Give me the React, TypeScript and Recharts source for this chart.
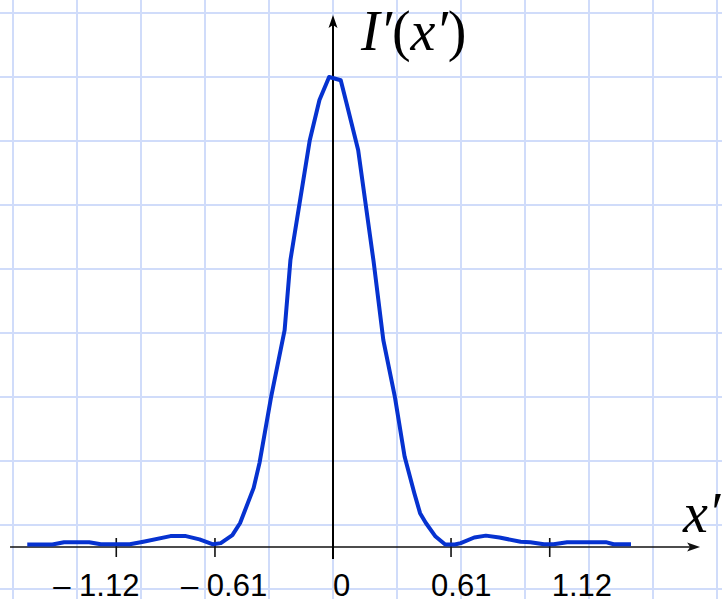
import React from "react"
import { LineChart, Line, XAxis, YAxis, CartesianGrid, ReferenceLine } from "recharts"

/* ── data ── */
const xPos = [
  -1.58, -1.45, -1.39, -1.26, -1.2, -1.05, -0.98, -0.84, -0.76, -0.69, -0.62, -0.58, -0.52, -0.48,
  -0.41, -0.38, -0.32, -0.25, -0.22, -0.12, -0.07, -0.02, 0.04, 0.07, 0.13, 0.21, 0.26, 0.32, 0.37,
  0.42, 0.45, 0.48, 0.53, 0.58, 0.63, 0.66, 0.73, 0.79, 0.86, 0.97, 1.02, 1.09, 1.14, 1.21, 1.41,
  1.45, 1.54,
]
const intensity = [
  0.001, 0.001, 0.006, 0.006, 0.0015, 0.0015, 0.007, 0.019, 0.019, 0.012, 0.0015, 0.004, 0.021, 0.047,
  0.122, 0.175, 0.316, 0.459, 0.609, 0.865, 0.951, 1.0, 0.993, 0.944, 0.844, 0.605, 0.438, 0.316, 0.189,
  0.111, 0.068, 0.047, 0.018, 0.001, 0.001, 0.004, 0.016, 0.02, 0.016, 0.007, 0.006, 0.0015, 0.0015, 0.006, 0.006,
  0.0015, 0.0015,
]
const tickValues = [-1.12, -0.61, 0, 0.61, 1.12]
const tickLabels = ["\u2013 1.12", "\u2013 0.61", "0", "0.61", "1.12"]

const data = xPos.map((x, i) => ({ x, i: intensity[i] }))

/* ── layout ── */
const W = 722
const H = 599
const X_DOMAIN: [number, number] = [-1.7209, 2.0103]
const Y_DOMAIN: [number, number] = [-0.1154, 1.1645]
const gridX = Array.from({ length: 12 }, (_, k) => 13 + 64 * k)
const gridY = Array.from({ length: 10 }, (_, k) => 13 + 64 * k)
const labelDx = [-63, -34, 0, -20, 2]

const serif = "'Liberation Serif', 'Times New Roman', serif"
const sans = "'Liberation Sans', Arial, sans-serif"

function XArrow(p: any) {
  const { x1, y1, x2 } = p
  return (
    <g>
      <line x1={x1} y1={y1} x2={x2 - 4} y2={y1} stroke="#111" strokeWidth={1.6} />
      <path d={`M${x2},${y1} L${x2 - 13},${y1 - 4.5} L${x2 - 10},${y1} L${x2 - 13},${y1 + 4.5} Z`} fill="#111" />
      <text x={x2 - 17} y={y1 - 15} fontFamily={serif} fontSize={56} fontStyle="italic" fill="#000">
        x′
      </text>
    </g>
  )
}

function YArrow(p: any) {
  const { x1, y1, y2 } = p
  const top = Math.min(y1, y2)
  const bot = Math.max(y1, y2)
  return (
    <g>
      <line x1={x1} y1={bot} x2={x1} y2={top + 4} stroke="#000" strokeWidth={2} />
      <path d={`M${x1},${top} L${x1 - 4.5},${top + 13} L${x1},${top + 10} L${x1 + 4.5},${top + 13} Z`} fill="#000" />
      <text x={x1 + 28} y={top + 35} fontFamily={serif} fontSize={56} fill="#000">
        <tspan fontStyle="italic">I′</tspan>
        <tspan>(</tspan>
        <tspan fontStyle="italic">x′</tspan>
        <tspan>)</tspan>
      </text>
    </g>
  )
}

function TickMark(idx: number) {
  return (p: any) => {
    const { x1, y1, y2 } = p
    const bot = Math.max(y1, y2)
    const top = Math.min(y1, y2)
    return (
      <g>
        {tickValues[idx] !== 0 && <line x1={x1} y1={top} x2={x1} y2={bot} stroke="#111" strokeWidth={1.6} />}
        <text x={x1 + labelDx[idx]} y={bot + 39} fontFamily={sans} fontSize={31} fill="#000" textAnchor="start">
          {tickLabels[idx]}
        </text>
      </g>
    )
  }
}

export default function App() {
  return (
    <div style={{ position: "absolute", left: 0, top: 0, width: W, height: H, background: "#fff" }}>
      <LineChart width={W} height={H} data={data} margin={{ top: 0, right: 0, bottom: 0, left: 0 }}>
        <CartesianGrid stroke="#d0dcfa" strokeWidth={2} verticalPoints={gridX} horizontalPoints={gridY} />
        <XAxis type="number" dataKey="x" domain={X_DOMAIN} hide allowDataOverflow />
        <YAxis type="number" domain={Y_DOMAIN} hide allowDataOverflow />
        <ReferenceLine segment={[{ x: -1.669, y: -0.0043 }, { x: 1.897, y: -0.0043 }]} shape={XArrow} />
        <ReferenceLine segment={[{ x: 0, y: -0.03 }, { x: 0, y: 1.1325 }]} shape={YArrow} />
        {tickValues.map((t, k) => (
          <ReferenceLine key={t} segment={[{ x: t, y: 0.015 }, { x: t, y: -0.0256 }]} shape={TickMark(k)} />
        ))}
        <Line
          type="linear"
          dataKey="i"
          stroke="#0632d0"
          strokeWidth={4}
          dot={false}
          activeDot={false}
          isAnimationActive={false}
          strokeLinejoin="round"
          strokeLinecap="butt"
        />
      </LineChart>
    </div>
  )
}
